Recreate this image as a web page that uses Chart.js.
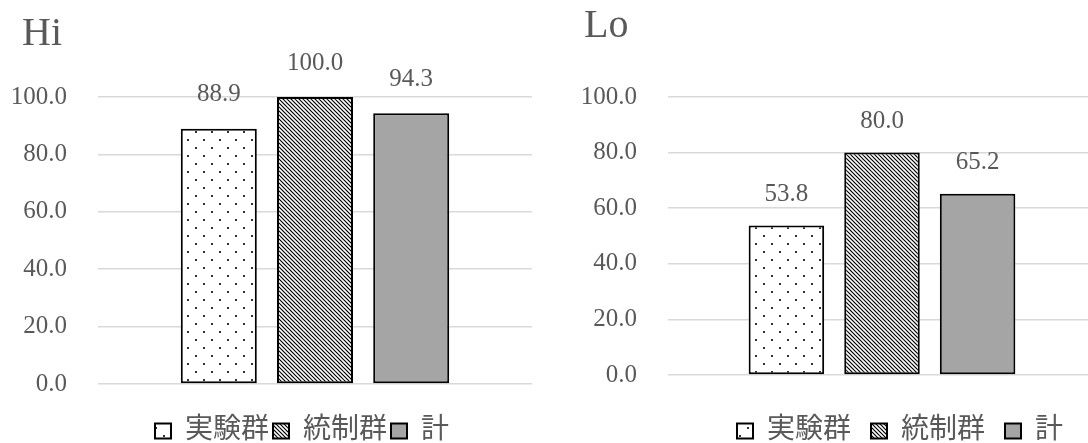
<!DOCTYPE html>
<html>
<head>
<meta charset="utf-8">
<script src="https://cdn.jsdelivr.net/npm/chart.js@4.4.1/dist/chart.umd.min.js"></script>
<style>
  html, body { margin: 0; padding: 0; overflow: hidden; background: #fff; width: 1088px; height: 443px; }
  #wrap { position: relative; width: 1088px; height: 443px; overflow: hidden; }
  canvas { position: absolute; top: 0; }
  #hi { left: 0; }
  #lo { left: 560px; }
</style>
</head>
<body>
<div id="wrap">
  <canvas id="hi" width="560" height="455"></canvas>
  <canvas id="lo" width="540" height="455"></canvas>
</div>
<script>
// Group names (one bar per group) and the percentages for each panel
const groups = ['実験群', '統制群', '計'];
const hiValues = [88.9, 100.0, 94.3];
const loValues = [53.8, 80.0, 65.2];
const yTicks = [0, 20, 40, 60, 80, 100];

const FONT = "'Liberation Serif', 'Noto Sans CJK JP', serif";
const TEXT = '#595959';

// Sparse staggered dots on white
function dotPattern() {
  const c = document.createElement('canvas');
  c.width = 16; c.height = 16;
  const g = c.getContext('2d');
  g.fillStyle = '#fff'; g.fillRect(0, 0, 16, 16);
  g.fillStyle = '#333';
  g.fillRect(3, 3, 2, 2);
  g.fillRect(11, 11, 2, 2);
  return g.createPattern(c, 'repeat');
}

// Thin downward diagonal stripes
function hatchPattern() {
  const c = document.createElement('canvas');
  c.width = 8; c.height = 8;
  const g = c.getContext('2d');
  g.fillStyle = '#fff'; g.fillRect(0, 0, 8, 8);
  g.strokeStyle = '#000';
  g.lineWidth = 1.2;
  for (let k = -12; k <= 12; k += 4) {
    g.beginPath();
    g.moveTo(k - 2, -2);
    g.lineTo(k + 10, 10);
    g.stroke();
  }
  return g.createPattern(c, 'repeat');
}

const fills = [dotPattern(), hatchPattern(), '#a5a5a5'];

// Writes each bar's value above it
const valueLabels = {
  id: 'valueLabels',
  afterDatasetsDraw(chart, args, opts) {
    const ctx = chart.ctx;
    ctx.save();
    ctx.font = "25px 'Liberation Serif'";
    ctx.fillStyle = TEXT;
    ctx.textAlign = 'center';
    ctx.textBaseline = 'middle';
    chart.data.datasets.forEach((ds, i) => {
      chart.getDatasetMeta(i).data.forEach((bar, j) => {
        ctx.fillText(ds.data[j].toFixed(1), bar.x, bar.y - opts.offset);
      });
    });
    ctx.restore();
  }
};

// Nudges the title and legend boxes sideways after layout
const boxShift = {
  id: 'boxShift',
  afterLayout(chart, args, opts) {
    const move = (box, dx) => {
      if (box && dx) { box.left += dx; box.right += dx; }
    };
    move(chart.titleBlock, opts.titleDx);
    move(chart.legend, opts.legendDx);
  }
};

function makeChart(id, title, values, L) {
  return new Chart(document.getElementById(id), {
    type: 'bar',
    data: {
      labels: [''],
      datasets: groups.map((name, i) => ({
        label: name,
        data: [values[i]],
        backgroundColor: fills[i],
        borderColor: '#000',
        borderWidth: 2,
        borderSkipped: false,
        categoryPercentage: L.catPct,
        barPercentage: 0.79
      }))
    },
    options: {
      responsive: false,
      animation: false,
      events: [],
      layout: { padding: { left: 0, right: L.padRight, top: 0, bottom: 0 } },
      scales: {
        x: {
          grid: { display: false },
          border: { display: false },
          ticks: { display: false },
          afterFit: s => { s.height = L.xHeight; }
        },
        y: {
          min: 0,
          max: 100,
          afterBuildTicks: s => { s.ticks = yTicks.map(v => ({ value: v })); },
          afterFit: s => { s.width = L.yWidth; },
          grid: { color: '#d9d9d9', lineWidth: 1.5, drawTicks: false },
          border: { display: false },
          ticks: {
            padding: 31,
            color: TEXT,
            font: { family: FONT, size: 25 },
            callback: v => Number(v).toFixed(1)
          }
        }
      },
      plugins: {
        title: {
          display: true,
          text: title,
          align: 'start',
          color: TEXT,
          font: { family: FONT, size: 40, weight: 'normal', lineHeight: 1.2 },
          padding: { top: L.titleTop, bottom: L.titleBottom }
        },
        legend: {
          position: 'bottom',
          labels: {
            boxWidth: 16,
            boxHeight: 15,
            padding: L.legendPad,
            color: TEXT,
            font: { family: FONT, size: 28 }
          }
        },
        tooltip: { enabled: false },
        valueLabels: { offset: L.labelOffset },
        boxShift: { titleDx: L.titleDx, legendDx: L.legendDx }
      }
    },
    plugins: [valueLabels, boxShift]
  });
}

makeChart('hi', 'Hi', hiValues, {
  padRight: 28, yWidth: 98, xHeight: 29, catPct: 0.665,
  titleTop: 10, titleBottom: 39, titleDx: 22,
  legendPad: 4, legendDx: 36, labelOffset: 34
});

makeChart('lo', 'Lo', loValues, {
  padRight: 4, yWidth: 108, xHeight: 22, catPct: 0.67,
  titleTop: 2, titleBottom: 47, titleDx: 24,
  legendPad: 20, legendDx: 72, labelOffset: 31
});
</script>
</body>
</html>
